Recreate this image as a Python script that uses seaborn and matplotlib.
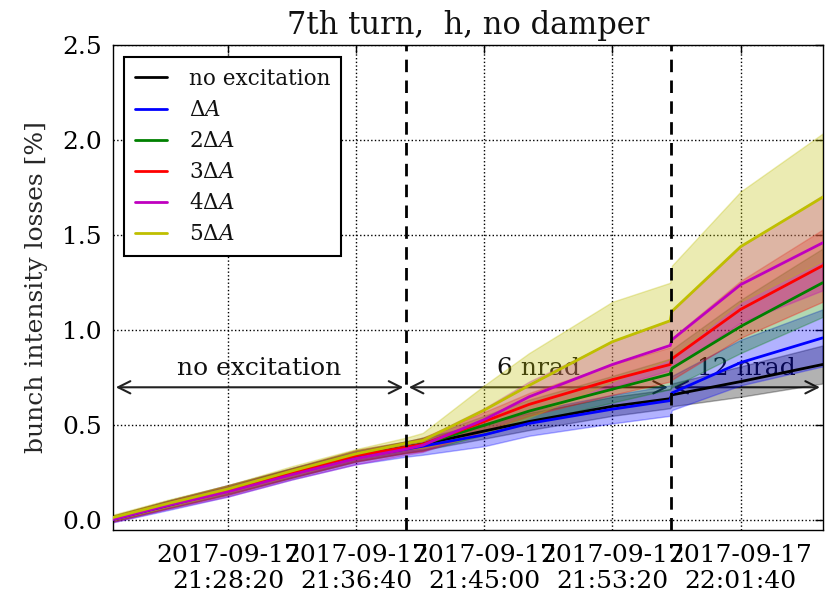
import numpy as np
import pandas as pd
import matplotlib
matplotlib.use("Agg")
import matplotlib.pyplot as plt
import matplotlib.dates as mdates
import seaborn as sns

# ---------------- data ----------------
day = "2017-09-17"
times = ["21:20:52", "21:24:30", "21:28:20", "21:32:30", "21:36:40", "21:39:55",
         "21:41:00", "21:45:00", "21:47:55", "21:53:20", "21:57:05", "21:57:12",
         "22:01:40", "22:07:00"]

labels = ["no excitation", r"$\Delta A$", r"$2\Delta A$", r"$3\Delta A$",
          r"$4\Delta A$", r"$5\Delta A$"]
colors = ["#000000", "#0000ff", "#008000", "#ff0000", "#bf00bf", "#bfbf00"]

black_mean = [0.010, 0.085, 0.160, 0.250, 0.335, 0.385, 0.400, 0.470, 0.520, 0.600, 0.640, 0.660, 0.730, 0.820]
black_std = [0.015, 0.020, 0.020, 0.025, 0.025, 0.030, 0.030, 0.040, 0.045, 0.050, 0.050, 0.060, 0.080, 0.100]
blue_mean = [0.005, 0.080, 0.155, 0.245, 0.330, 0.375, 0.390, 0.450, 0.510, 0.585, 0.630, 0.670, 0.830, 0.960]
blue_std = [0.015, 0.025, 0.030, 0.030, 0.035, 0.040, 0.045, 0.060, 0.065, 0.075, 0.080, 0.090, 0.120, 0.150]
green_mean = [0.010, 0.085, 0.160, 0.250, 0.340, 0.385, 0.400, 0.500, 0.575, 0.690, 0.770, 0.800, 1.020, 1.250]
green_std = [0.015, 0.020, 0.025, 0.025, 0.030, 0.030, 0.035, 0.050, 0.060, 0.070, 0.080, 0.100, 0.140, 0.180]
red_mean = [0.010, 0.085, 0.160, 0.250, 0.340, 0.385, 0.400, 0.520, 0.610, 0.740, 0.820, 0.850, 1.110, 1.340]
red_std = [0.015, 0.020, 0.025, 0.025, 0.030, 0.030, 0.035, 0.050, 0.060, 0.080, 0.090, 0.110, 0.150, 0.190]
magenta_mean = [0.005, 0.080, 0.150, 0.240, 0.325, 0.375, 0.395, 0.530, 0.650, 0.820, 0.920, 0.950, 1.240, 1.460]
magenta_std = [0.015, 0.020, 0.025, 0.025, 0.030, 0.030, 0.035, 0.060, 0.080, 0.120, 0.130, 0.150, 0.200, 0.250]
yellow_mean = [0.015, 0.090, 0.165, 0.260, 0.350, 0.405, 0.420, 0.580, 0.710, 0.940, 1.050, 1.100, 1.440, 1.700]
yellow_std = [0.015, 0.020, 0.020, 0.025, 0.025, 0.030, 0.040, 0.130, 0.170, 0.210, 0.200, 0.240, 0.290, 0.335]

means = [black_mean, blue_mean, green_mean, red_mean, magenta_mean, yellow_mean]
stds = [black_std, blue_std, green_std, red_std, magenta_std, yellow_std]

phase_starts = ["21:39:55", "21:57:07"]
phase_texts = ["no excitation", "6 nrad", "12 nrad"]
arrow_level = 0.70
text_level = 0.80
tick_times = ["21:28:20", "21:36:40", "21:45:00", "21:53:20", "22:01:40"]
y_ticks = [0.0, 0.5, 1.0, 1.5, 2.0, 2.5]

# ---------------- style ----------------
sns.set_theme(style="white")
plt.rcParams.update({
    "font.family": ["DejaVu Serif"],
    "mathtext.fontset": "dejavuserif",
    "axes.edgecolor": "black",
    "axes.linewidth": 1.0,
    "xtick.direction": "in",
    "ytick.direction": "in",
    "xtick.top": True,
    "ytick.right": True,
    "xtick.color": "black",
    "ytick.color": "black",
    "text.color": "#111111",
    "lines.scale_dashes": False,
})

t = pd.to_datetime([f"{day} {s}" for s in times])
rows = []
for lab, m in zip(labels, means):
    for ti, v in zip(t, m):
        rows.append({"time": ti, "loss": v, "series": lab})
df = pd.DataFrame(rows)

fig = plt.figure(figsize=(8.31, 5.94), dpi=100)
ax = fig.add_axes([0.136, 0.108, 0.854, 0.816])

for m, s, c in zip(means, stds, colors):
    m = np.asarray(m)
    s = np.asarray(s)
    ax.fill_between(t, m - s, m + s, color=c, alpha=0.3, lw=1.0, zorder=2)

sns.lineplot(data=df, x="time", y="loss", hue="series", hue_order=labels,
             palette=dict(zip(labels, colors)), linewidth=2, legend=False,
             ax=ax, zorder=3)

handles = list(ax.get_lines()[:len(labels)])

# phase separators
tp = pd.to_datetime([f"{day} {s}" for s in phase_starts])
for x in tp:
    ax.axvline(x, color="black", lw=2, linestyle=(0, (9, 6)), zorder=4)

# arrows + texts
bounds = [t[0]] + list(tp) + [t[-1]]
for i, txt in enumerate(phase_texts):
    a, b = bounds[i], bounds[i + 1]
    ax.annotate("", xy=(a, arrow_level), xytext=(b, arrow_level),
                arrowprops=dict(arrowstyle="<->", color="#222222", lw=1.5,
                                mutation_scale=22), zorder=1)
    mid = a + (b - a) / 2
    ax.text(mid, text_level, txt, ha="center", va="center", fontsize=18,
            color="#111111", zorder=1)

ax.set_xlim(t[0], t[-1])
ax.set_ylim(-0.05, 2.5)
ax.set_yticks(y_ticks)
ax.yaxis.set_major_formatter(matplotlib.ticker.FormatStrFormatter("%.1f"))
ax.set_xticks(pd.to_datetime([f"{day} {s}" for s in tick_times]))
ax.xaxis.set_major_formatter(mdates.DateFormatter("%Y-%m-%d\n%H:%M:%S"))
ax.tick_params(axis="both", labelsize=18, length=6, width=1)
ax.tick_params(axis="x", pad=10)
ax.tick_params(axis="y", pad=8)
ax.grid(True, linestyle=":", color="black", lw=1.0)
ax.set_axisbelow(True)
ax.set_xlabel("")
ax.set_ylabel("bunch intensity losses [%]", fontsize=18, labelpad=10)
ax.set_title("7th turn,  h, no damper", fontsize=22, pad=8)

leg = ax.legend(handles, labels, loc="upper left", fontsize=15.5,
                frameon=True, fancybox=False, framealpha=1,
                edgecolor="black", handlelength=1.5, handletextpad=1.0,
                labelspacing=0.42, borderpad=0.5, borderaxespad=0,
                bbox_to_anchor=(0.0155, 0.975))
leg.get_frame().set_linewidth(1.5)

fig.savefig("out.png", dpi=100)
